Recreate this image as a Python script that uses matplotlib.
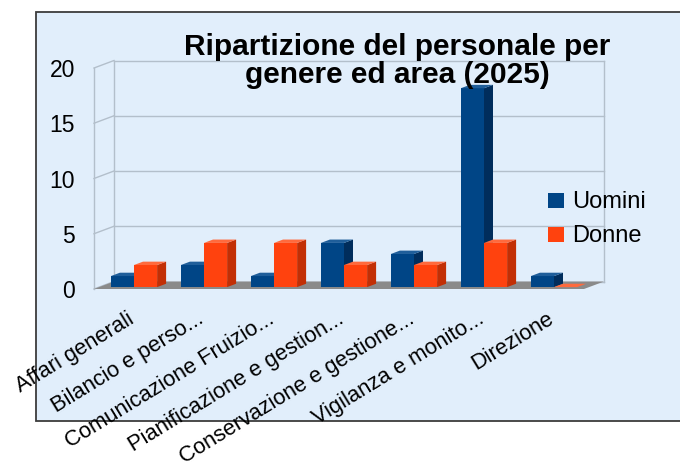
import matplotlib.pyplot as plt
from matplotlib.patches import Polygon, Rectangle
from matplotlib.transforms import offset_copy, IdentityTransform
import numpy as np

plt.rcParams['font.family'] = ['Liberation Sans', 'DejaVu Sans']

# data
categories = ['Affari generali', 'Bilancio e perso...', 'Comunicazione Fruizio...',
              'Pianificazione e gestion...', 'Conservazione e gestione...',
              'Vigilanza e monito...', 'Direzione']
uomini = [1, 2, 1, 4, 3, 18, 1]
donne = [2, 4, 4, 2, 2, 4, 0]
series_names = ['Uomini', 'Donne']
yticks = [0, 5, 10, 15, 20]

W, H = 680, 470
col_front = ['#004586', '#ff420e']
col_side = ['#002d5c', '#c22f05']
col_top = ['#1f5e9a', '#ff6a3d']
grid_col = '#b3bfcb'

fig = plt.figure(figsize=(6.8, 4.7), dpi=100)

# light blue chart area
fig.patches.append(Rectangle((35.7 / W, 1 - 421 / H), 1.0, (421 - 12) / H,
                             transform=fig.transFigure, facecolor='#e1eefb',
                             edgecolor='#3c3c3c', lw=1.3, zorder=0))

ax = fig.add_axes([94 / W, 1 - 289 / H, 490 / W, (289 - 68) / H])
ax.set_zorder(2)
ax.set_xlim(-0.5, 6.5)
ax.set_ylim(0, 20)
ax.axis('off')
fig.canvas.draw()

depth = np.array([20.0, 7.5])   # pixels, back of the box


def disp(x, y, d=0.0):
    return ax.transData.transform((x, y)) + d * depth


def poly(pts, color, z):
    p = Polygon(pts, closed=True, facecolor=color, edgecolor='none', lw=0,
                transform=IdentityTransform(), clip_on=False, zorder=z)
    ax.add_artist(p)


def line(a, b):
    ax.add_artist(plt.Line2D([a[0], b[0]], [a[1], b[1]], color=grid_col, lw=1,
                             transform=IdentityTransform(), clip_on=False, zorder=1))


# walls and grid
x0, x1 = -0.5, 6.5
for t in yticks:
    line(disp(x0, t, 1), disp(x1, t, 1))
    line(disp(x0, t, 0), disp(x0, t, 1))
for xe, d in [(x0, 0), (x0, 1), (x1, 1)]:
    line(disp(xe, 0, d), disp(xe, 20, d))

# floor
poly([disp(x0, 0, 0), disp(x1, 0, 0), disp(x1, 0, 1), disp(x0, 0, 1)], '#8a8a8a', 2)

# bars
bw = 0.33
d0, d1 = 0.25, 0.7
front_tr = offset_copy(ax.transData, fig=fig, x=depth[0] * d0, y=depth[1] * d0, units='dots')
for i in range(len(categories)):
    for s, vals in enumerate([uomini, donne]):
        v = vals[i]
        left = i - bw + s * bw
        right = left + bw
        z = 3 + i * 2 + s
        ax.bar(left, v, width=bw, align='edge', color=col_front[s], lw=0,
               transform=front_tr, zorder=z, clip_on=False)
        poly([disp(right, 0, d0), disp(right, 0, d1), disp(right, v, d1), disp(right, v, d0)],
             col_side[s], z)
        poly([disp(left, v, d0), disp(right, v, d0), disp(right, v, d1), disp(left, v, d1)],
             col_top[s], z)

# y tick labels
ytr = offset_copy(ax.transData, fig=fig, x=-19, y=0, units='dots')
for t in yticks:
    ax.text(x0, t, str(t), transform=ytr, ha='right', va='center_baseline',
            fontsize=16.5, color='#000000')

# category labels
xtr = offset_copy(ax.transData, fig=fig, x=6, y=-33, units='dots')
for i, lab in enumerate(categories):
    ax.text(i, 0, lab, transform=xtr, rotation=31.5, rotation_mode='anchor',
            ha='right', va='baseline', fontsize=15.8, color='#000000', zorder=30)

# legend
for s, name in enumerate(series_names):
    yc = 200 + s * 34
    fig.patches.append(Rectangle((548 / W, 1 - (yc + 7.5) / H), 16 / W, 15 / H,
                                 transform=fig.transFigure, facecolor=col_front[s],
                                 edgecolor='none', zorder=5))
    fig.text(572 / W, 1 - yc / H, name, ha='left', va='center_baseline', fontsize=17)

# title
fig.text(397 / W, 1 - 55 / H, 'Ripartizione del personale per', ha='center',
         va='baseline', fontsize=21.5, fontweight='bold')
fig.text(397 / W, 1 - 83 / H, 'genere ed area (2025)', ha='center',
         va='baseline', fontsize=21.5, fontweight='bold')

fig.savefig('out.png', dpi=100)
